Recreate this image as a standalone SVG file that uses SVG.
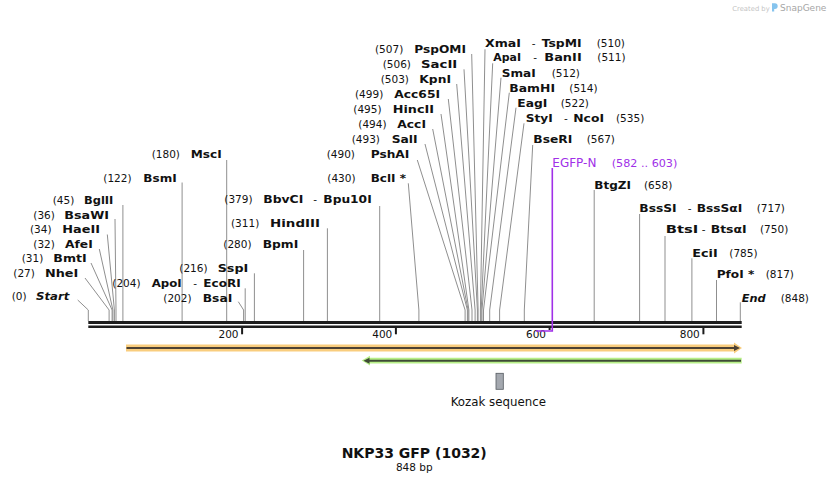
<svg xmlns="http://www.w3.org/2000/svg" width="830" height="484" viewBox="0 0 830 484">
<style>
text{font-family:"DejaVu Sans",Verdana,sans-serif;fill:#111}
.n{font-size:10.5px}
.b{font-size:11px;font-weight:bold}
.i{font-style:italic}
.h{font-size:10.5px}
.p{fill:#a030e8}
.c path{fill:none;stroke:#8f8f8f;stroke-width:1}
.t{stroke:#1a1a1a;stroke-width:2}
</style>
<rect width="830" height="484" fill="#fff"/>
<g id="watermark">
<text x="732.3" y="10.5" style="font-size:6.8px;fill:#c4c4c4">Created by</text>
<path d="M772,3.2h2.8a2.9,2.9 0 0 1 0,5.8h-0.6v2.6h-2.2z" fill="#86c4ee"/>
<text x="780" y="11" style="font-size:9px;fill:#a6a6a6">SnapGene</text>
</g>
<g class="c" id="connectors">
<path d="M77.7,300L88.3,310V321"/>
<path d="M85,278L109.1,310V321"/>
<path d="M91,263L112.1,310V321"/>
<path d="M99.3,249L112.9,310V321"/>
<path d="M107.3,234.5L114.4,310V321"/>
<path d="M115,219L116,310V321"/>
<path d="M122.9,205V321"/>
<path d="M182.1,182.5V321"/>
<path d="M226.7,160V321"/>
<path d="M238.3,301.7L243.6,310V321"/>
<path d="M245.2,288.3V321"/>
<path d="M254.4,273.3V321"/>
<path d="M303.6,250V321"/>
<path d="M327.4,228.3V321"/>
<path d="M379.7,206V321"/>
<path d="M408.3,183.3L418.9,310V321"/>
<path d="M417.3,160L465.1,310V321"/>
<path d="M425,144L467.4,310V321"/>
<path d="M432.7,129L468.1,310V321"/>
<path d="M441,114L468.9,310V321"/>
<path d="M448.3,99L472,310V321"/>
<path d="M456.7,84L475.1,310V321"/>
<path d="M464,69.3L477.4,310V321"/>
<path d="M471.7,54L478.1,310V321"/>
<path d="M485,49.3L480.4,310V321"/>
<path d="M492.7,63.3L481.2,310V321"/>
<path d="M501,77.7L482,310V321"/>
<path d="M509.3,92.7L483.5,310V321"/>
<path d="M516,107.7L489.7,310V321"/>
<path d="M524,123.3L499.6,310V321"/>
<path d="M532.7,145L524.3,310V321"/>
<path d="M594.2,190V321"/>
<path d="M639.6,214V321"/>
<path d="M665,236V321"/>
<path d="M691.9,258.3V321"/>
<path d="M716.5,280V321"/>
<path d="M740.3,302.3V321"/>
</g>
<g id="backbone">
<line x1="88.3" y1="322.5" x2="741.7" y2="322.5" stroke="#1e1e1e" stroke-width="3"/>
<line x1="88.3" y1="326.8" x2="741.7" y2="326.8" stroke="#1e1e1e" stroke-width="2.5"/>
<line class="t" x1="242.1" y1="328" x2="242.1" y2="334.3"/>
<line class="t" x1="395.9" y1="328" x2="395.9" y2="334.3"/>
<line class="t" x1="549.6" y1="328" x2="549.6" y2="330"/>
<line class="t" x1="703.4" y1="328" x2="703.4" y2="334.3"/>
<text class="n" x="238.5" y="338" text-anchor="end">200</text>
<text class="n" x="392.3" y="338" text-anchor="end">400</text>
<text class="n" x="546" y="338" text-anchor="end">600</text>
<text class="n" x="699.8" y="338" text-anchor="end">800</text>
</g>
<g id="primer-EGFP-N">
<path d="M535.8,331H552.3V168" fill="none" stroke="#a030e8" stroke-width="1.6"/>
<text x="552.3" y="166.5" class="p" style="font-size:12px">EGFP-N</text>
<text x="611.7" y="166.5" class="p" style="font-size:11.2px">(582 .. 603)</text>
</g>
<g id="feature-orange">
<path d="M126,344.5H734V342.6L742,348L734,353.4V351.5H126Z" fill="#f9cd7e"/>
<path d="M126.5,348H736" stroke="#4d4234" stroke-width="2"/>
<path d="M734,345L740,348L734,351Z" fill="#4d4234"/>
</g>
<g id="feature-green">
<path d="M741.7,357.8H370V355.8L361.7,360.6L370,365.4V363.4H741.7Z" fill="#b7ef88"/>
<path d="M367,360.8H741" stroke="#3e4a36" stroke-width="2"/>
<path d="M369.5,357.8L363.5,360.8L369.5,363.8Z" fill="#3e4a36"/>
</g>
<g id="feature-kozak">
<rect x="496" y="373.3" width="7.3" height="16" fill="#a4a8af" stroke="#555a60" stroke-width="0.8"/>
<text x="498.3" y="405.5" text-anchor="middle" style="font-size:11.8px">Kozak sequence</text>
</g>
<g id="title">
<text x="414.2" y="458" text-anchor="middle" style="font-size:14px;font-weight:bold">NKP33 GFP (1032)</text>
<text x="414.3" y="471" text-anchor="middle" class="n">848 bp</text>
</g>
<g id="site-Start"><text class="n" x="11.7" y="300">(0)</text><text class="b i" x="36" y="300" textLength="33.3" lengthAdjust="spacingAndGlyphs">Start</text></g>
<g id="site-NheI"><text class="n" x="13.3" y="276.5">(27)</text><text class="b" x="45" y="276.5" textLength="33.3" lengthAdjust="spacingAndGlyphs">NheI</text></g>
<g id="site-BmtI"><text class="n" x="21.7" y="262">(31)</text><text class="b" x="53.3" y="262" textLength="33.4" lengthAdjust="spacingAndGlyphs">BmtI</text></g>
<g id="site-AfeI"><text class="n" x="33.3" y="247.5">(32)</text><text class="b" x="65" y="247.5" textLength="27.7" lengthAdjust="spacingAndGlyphs">AfeI</text></g>
<g id="site-HaeII"><text class="n" x="30" y="233">(34)</text><text class="b" x="62.3" y="233" textLength="37.7" lengthAdjust="spacingAndGlyphs">HaeII</text></g>
<g id="site-BsaWI"><text class="n" x="33.3" y="218.5">(36)</text><text class="b" x="64.3" y="218.5" textLength="44.7" lengthAdjust="spacingAndGlyphs">BsaWI</text></g>
<g id="site-BglII"><text class="n" x="52.7" y="204">(45)</text><text class="b" x="84" y="204" textLength="29.3" lengthAdjust="spacingAndGlyphs">BglII</text></g>
<g id="site-BsmI"><text class="n" x="103.3" y="181.5">(122)</text><text class="b" x="143.3" y="181.5" textLength="33.4" lengthAdjust="spacingAndGlyphs">BsmI</text></g>
<g id="site-MscI"><text class="n" x="151.7" y="158.3">(180)</text><text class="b" x="190.7" y="158.3" textLength="31" lengthAdjust="spacingAndGlyphs">MscI</text></g>
<g id="site-ApoI-EcoRI"><text class="n" x="112.3" y="286.5">(204)</text><text class="b" x="151.7" y="286.5" textLength="30" lengthAdjust="spacingAndGlyphs">ApoI</text><text class="h" x="193.3" y="286.5">-</text><text class="b" x="203.3" y="286.5" textLength="37.4" lengthAdjust="spacingAndGlyphs">EcoRI</text></g>
<g id="site-BsaI"><text class="n" x="163.3" y="301.5">(202)</text><text class="b" x="202.7" y="301.5" textLength="29.6" lengthAdjust="spacingAndGlyphs">BsaI</text></g>
<g id="site-SspI"><text class="n" x="179.3" y="271.5">(216)</text><text class="b" x="217.7" y="271.5" textLength="30.6" lengthAdjust="spacingAndGlyphs">SspI</text></g>
<g id="site-BpmI"><text class="n" x="223.3" y="248.3">(280)</text><text class="b" x="262.7" y="248.3" textLength="35.6" lengthAdjust="spacingAndGlyphs">BpmI</text></g>
<g id="site-HindIII"><text class="n" x="231" y="226.5">(311)</text><text class="b" x="270" y="226.5" textLength="50" lengthAdjust="spacingAndGlyphs">HindIII</text></g>
<g id="site-BbvCI-Bpu10I"><text class="n" x="224.3" y="203.3">(379)</text><text class="b" x="263.3" y="203.3" textLength="40" lengthAdjust="spacingAndGlyphs">BbvCI</text><text class="h" x="313.3" y="203.3">-</text><text class="b" x="323.3" y="203.3" textLength="48.4" lengthAdjust="spacingAndGlyphs">Bpu10I</text></g>
<g id="site-BclI"><text class="n" x="327.3" y="181.5">(430)</text><text class="b" x="370.7" y="181.5" textLength="35.3" lengthAdjust="spacingAndGlyphs">BclI *</text></g>
<g id="site-PshAI"><text class="n" x="326.7" y="158.3">(490)</text><text class="b" x="370.7" y="158.3" textLength="38.6" lengthAdjust="spacingAndGlyphs">PshAI</text></g>
<g id="site-SalI"><text class="n" x="351.7" y="143.3">(493)</text><text class="b" x="391.7" y="143.3" textLength="26" lengthAdjust="spacingAndGlyphs">SalI</text></g>
<g id="site-AccI"><text class="n" x="358.3" y="128.3">(494)</text><text class="b" x="397.3" y="128.3" textLength="28.7" lengthAdjust="spacingAndGlyphs">AccI</text></g>
<g id="site-HincII"><text class="n" x="353.3" y="113.3">(495)</text><text class="b" x="392.7" y="113.3" textLength="41.3" lengthAdjust="spacingAndGlyphs">HincII</text></g>
<g id="site-Acc65I"><text class="n" x="355" y="98.3">(499)</text><text class="b" x="394.3" y="98.3" textLength="45.7" lengthAdjust="spacingAndGlyphs">Acc65I</text></g>
<g id="site-KpnI"><text class="n" x="380.7" y="83.3">(503)</text><text class="b" x="419.3" y="83.3" textLength="31.7" lengthAdjust="spacingAndGlyphs">KpnI</text></g>
<g id="site-SacII"><text class="n" x="382.7" y="68.3">(506)</text><text class="b" x="421" y="68.3" textLength="36.3" lengthAdjust="spacingAndGlyphs">SacII</text></g>
<g id="site-PspOMI"><text class="n" x="375" y="53.3">(507)</text><text class="b" x="414.3" y="53.3" textLength="51.7" lengthAdjust="spacingAndGlyphs">PspOMI</text></g>
<g id="site-XmaI-TspMI"><text class="b" x="485" y="46.5" textLength="36" lengthAdjust="spacingAndGlyphs">XmaI</text><text class="h" x="531.7" y="46.5">-</text><text class="b" x="541.7" y="46.5" textLength="40" lengthAdjust="spacingAndGlyphs">TspMI</text><text class="n" x="596.7" y="46.5">(510)</text></g>
<g id="site-ApaI-BanII"><text class="b" x="493.3" y="61" textLength="27.7" lengthAdjust="spacingAndGlyphs">ApaI</text><text class="h" x="533.3" y="61">-</text><text class="b" x="544.3" y="61" textLength="37.4" lengthAdjust="spacingAndGlyphs">BanII</text><text class="n" x="597.3" y="61">(511)</text></g>
<g id="site-SmaI"><text class="b" x="501.7" y="76.5" textLength="34" lengthAdjust="spacingAndGlyphs">SmaI</text><text class="n" x="551.7" y="76.5">(512)</text></g>
<g id="site-BamHI"><text class="b" x="509.3" y="91.5" textLength="45.7" lengthAdjust="spacingAndGlyphs">BamHI</text><text class="n" x="569.3" y="91.5">(514)</text></g>
<g id="site-EagI"><text class="b" x="517.3" y="106.5" textLength="30" lengthAdjust="spacingAndGlyphs">EagI</text><text class="n" x="560.7" y="106.5">(522)</text></g>
<g id="site-StyI-NcoI"><text class="b" x="525.7" y="121.5" textLength="27" lengthAdjust="spacingAndGlyphs">StyI</text><text class="h" x="564" y="121.5">-</text><text class="b" x="573.3" y="121.5" textLength="30.7" lengthAdjust="spacingAndGlyphs">NcoI</text><text class="n" x="616" y="121.5">(535)</text></g>
<g id="site-BseRI"><text class="b" x="533.3" y="143.3" textLength="39" lengthAdjust="spacingAndGlyphs">BseRI</text><text class="n" x="586.7" y="143.3">(567)</text></g>
<g id="site-BtgZI"><text class="b" x="594.3" y="189.3" textLength="36.7" lengthAdjust="spacingAndGlyphs">BtgZI</text><text class="n" x="644" y="189.3">(658)</text></g>
<g id="site-BssSI"><text class="b" x="639.3" y="211.5" textLength="37.4" lengthAdjust="spacingAndGlyphs">BssSI</text><text class="h" x="687.7" y="211.5">-</text><text class="b" x="696.7" y="211.5" textLength="45.6" lengthAdjust="spacingAndGlyphs">BssSαI</text><text class="n" x="756.7" y="211.5">(717)</text></g>
<g id="site-BtsI"><text class="b" x="665.7" y="233.3" textLength="32.6" lengthAdjust="spacingAndGlyphs">BtsI</text><text class="h" x="701.7" y="233.3">-</text><text class="b" x="710.7" y="233.3" textLength="36" lengthAdjust="spacingAndGlyphs">BtsαI</text><text class="n" x="760" y="233.3">(750)</text></g>
<g id="site-EciI"><text class="b" x="692.3" y="256.5" textLength="25.4" lengthAdjust="spacingAndGlyphs">EciI</text><text class="n" x="729.3" y="256.5">(785)</text></g>
<g id="site-PfoI"><text class="b" x="716.7" y="278.3" textLength="37.6" lengthAdjust="spacingAndGlyphs">PfoI *</text><text class="n" x="765.7" y="278.3">(817)</text></g>
<g id="site-End"><text class="b i" x="741.7" y="301.5" textLength="24" lengthAdjust="spacingAndGlyphs">End</text><text class="n" x="780.7" y="301.5">(848)</text></g>
</svg>
